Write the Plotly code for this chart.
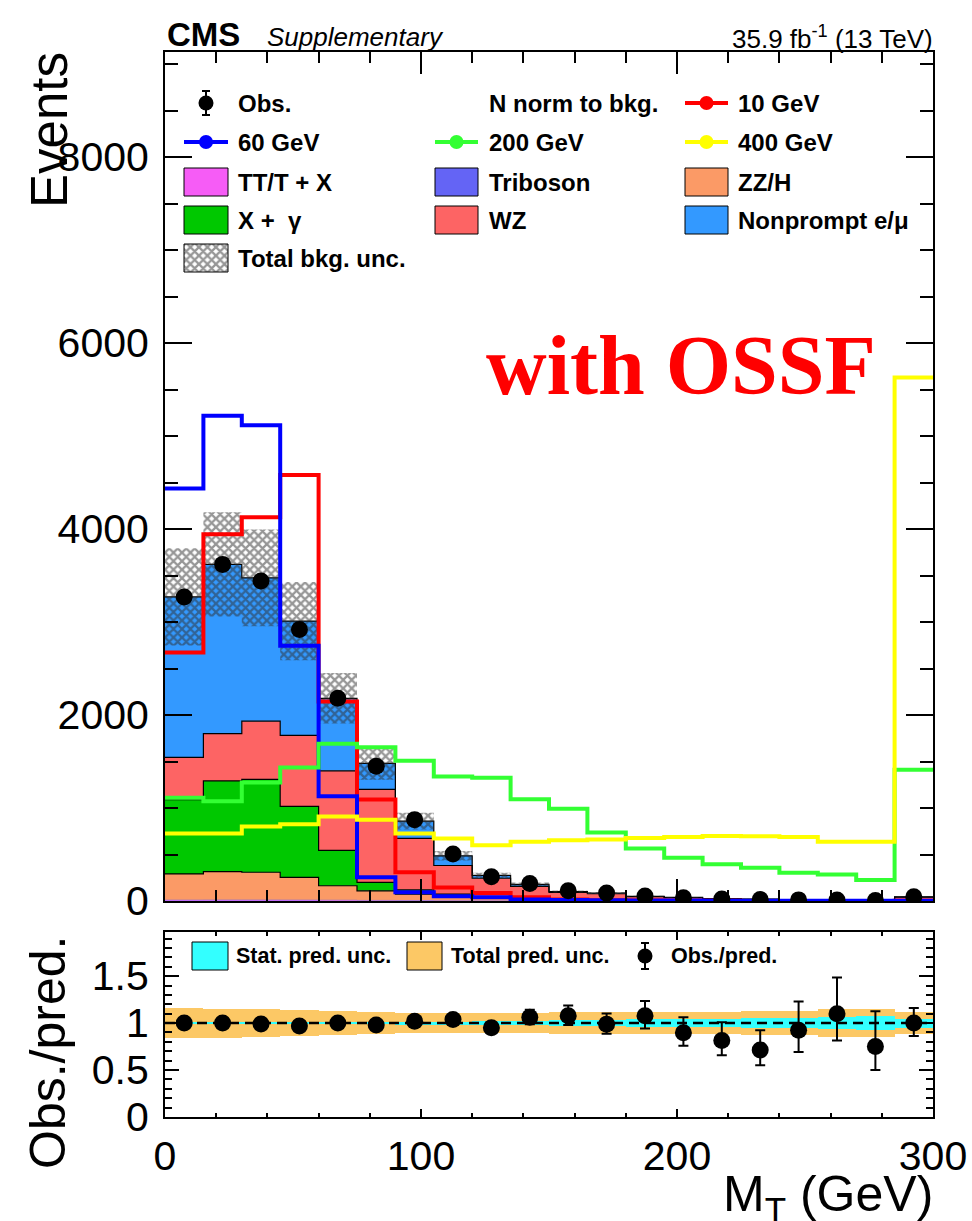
import numpy as np
import plotly.graph_objects as go

# ---------------- data ----------------
bin_edges = list(range(0, 301, 15))  # M_T bins, GeV

obs = [3270, 3620, 3440, 2920, 2180, 1450, 875, 505, 261, 189,
       110, 85, 55, 35, 22, 15, 12, 11, 6, 45]

bkg_ttx = [8, 9, 9, 8, 7, 5, 4, 3, 2, 1.5, 1, 0.8, 0.6, 0.5, 0.4, 0.3, 0.3, 0.2, 0.2, 0.8]
bkg_tribo = [2, 2, 2, 2, 2, 1.5, 1, 1, 0.8, 0.6, 0.5, 0.4, 0.3, 0.3, 0.2, 0.2, 0.1, 0.1, 0.1, 0.4]
bkg_zzh = [281, 305, 298, 245, 155, 103, 68, 43, 27, 20, 12.5, 9.8, 6.1, 4.2, 3.4, 2.5, 1.6, 1.7, 0.7, 4.8]
bkg_xg = [799, 975, 1000, 763, 381, 91, 47, 28, 15, 10, 6, 4, 3, 2, 1, 1, 1, 0.5, 0.5, 2]
bkg_wz = [455, 509, 625, 764, 855, 1000, 553, 307, 200, 126, 72, 63, 37, 29, 20, 15, 9, 7, 6, 33]
bkg_np = [1725, 1820, 1541, 1228, 780, 280, 185, 104, 30, 20, 10, 8, 4, 3, 2, 2, 1, 0.5, 0.5, 4]

sig_10 = [2673, 3945, 4127, 4581, 2145, 1091, 309, 145, 85, 40, 15, 8, 5, 3, 2, 1, 1, 1, 0.5, 2]
sig_60 = [4436, 5218, 5116, 2745, 1127, 255, 95, 50, 40, 15, 10, 8, 6, 5, 4, 3, 3, 2, 2, 3]
sig_200 = [1109, 1073, 1273, 1436, 1691, 1654, 1509, 1340, 1325, 1093,
           993, 736, 564, 464, 396, 357, 304, 286, 225, 1411]
sig_400 = [727, 727, 800, 825, 909, 873, 725, 671, 600, 636,
           653, 661, 678, 689, 700, 696, 689, 636, 636, 5630]

tot_rel = [0.16, 0.155, 0.15, 0.14, 0.125, 0.12, 0.105, 0.105, 0.105, 0.11,
           0.115, 0.115, 0.12, 0.12, 0.12, 0.13, 0.13, 0.145, 0.15, 0.12]
stat_rel = [0.012, 0.012, 0.012, 0.012, 0.013, 0.014, 0.015, 0.016, 0.018, 0.022,
            0.028, 0.035, 0.042, 0.04, 0.046, 0.053, 0.053, 0.067, 0.075, 0.047]

# ---------------- geometry helpers ----------------
W, H = 972, 1221
ML, MR, MT, MB = 165, 39, 52, 104
PW, PH = W - ML - MR, H - MT - MB


def px(xp):
    return (xp - ML) / PW


def py(yp):
    return (H - MB - yp) / PH


FONT = "Liberation Sans, Arial, Helvetica, sans-serif"
HATCH = dict(shape="x", fgcolor="#2e2e2e", size=6, solidity=0.62)
edges = np.array(bin_edges, float)
centers = 0.5 * (edges[:-1] + edges[1:])


def step(v):
    v = np.asarray(v, float)
    return np.append(v, v[-1])


fig = go.Figure()

# ---------------- stacked backgrounds ----------------
stack = [
    ("TT/T + X", bkg_ttx, "#f65cf6"),
    ("Triboson", bkg_tribo, "#6464f5"),
    ("ZZ/H", bkg_zzh, "#fb9a66"),
    ("X +  γ", bkg_xg, "#00c800"),
    ("WZ", bkg_wz, "#fd6464"),
    ("Nonprompt e/μ", bkg_np, "#3399ff"),
]
cum = np.zeros(len(obs))
for i, (name, vals, col) in enumerate(stack):
    cum = cum + np.asarray(vals, float)
    fig.add_trace(go.Scatter(
        x=edges, y=step(cum), mode="lines",
        line=dict(shape="hv", color="black" if i >= 2 else col, width=1.2 if i >= 2 else 0.5),
        fill="tozeroy" if i == 0 else "tonexty", fillcolor=col,
        xaxis="x", yaxis="y", showlegend=False, hoverinfo="skip"))
pred = cum.copy()
unc = pred * np.asarray(tot_rel)

# hatched total uncertainty band
fig.add_trace(go.Scatter(x=edges, y=step(pred - unc), mode="lines",
                         line=dict(shape="hv", width=0, color="rgba(0,0,0,0)"),
                         xaxis="x", yaxis="y", showlegend=False, hoverinfo="skip"))
fig.add_trace(go.Scatter(x=edges, y=step(pred + unc), mode="lines",
                         line=dict(shape="hv", width=0, color="rgba(0,0,0,0)"),
                         fill="tonexty", fillcolor="rgba(0,0,0,0)",
                         fillpattern=dict(bgcolor="rgba(0,0,0,0)", **HATCH),
                         xaxis="x", yaxis="y", showlegend=False, hoverinfo="skip"))

# ---------------- signals ----------------
signals = [(sig_10, "#ff0000"), (sig_60, "#0000ff"), (sig_200, "#33ff33"), (sig_400, "#ffff00")]
for vals, col in signals:
    fig.add_trace(go.Scatter(x=edges, y=step(vals), mode="lines",
                             line=dict(shape="hv", color=col, width=4),
                             xaxis="x", yaxis="y", showlegend=False, hoverinfo="skip"))

# ---------------- observed ----------------
obs_a = np.asarray(obs, float)
err_hi = np.sqrt(obs_a + 0.25) + 0.5
err_lo = np.sqrt(obs_a + 0.25) - 0.5
fig.add_trace(go.Scatter(x=centers, y=obs_a, mode="markers",
                         marker=dict(color="black", size=17),
                         error_y=dict(type="data", array=err_hi, arrayminus=err_lo,
                                      color="black", thickness=2, width=0),
                         xaxis="x", yaxis="y", showlegend=False, hoverinfo="skip"))

# ---------------- ratio panel ----------------
tot_rel_a = np.asarray(tot_rel)
stat_rel_a = np.asarray(stat_rel)
fig.add_trace(go.Bar(x=centers, y=2 * tot_rel_a, base=1 - tot_rel_a, width=15,
                     marker=dict(color="#fcc865", line=dict(width=0)),
                     xaxis="x2", yaxis="y2", showlegend=False, hoverinfo="skip"))
fig.add_trace(go.Bar(x=centers, y=2 * stat_rel_a, base=1 - stat_rel_a, width=15,
                     marker=dict(color="#33ffff", line=dict(width=0)),
                     xaxis="x2", yaxis="y2", showlegend=False, hoverinfo="skip"))
fig.add_trace(go.Scatter(x=[edges[0], edges[-1]], y=[1, 1], mode="lines",
                         line=dict(color="black", width=2.5, dash="10px,6px"),
                         xaxis="x2", yaxis="y2", showlegend=False, hoverinfo="skip"))
ratio = obs_a / pred
fig.add_trace(go.Scatter(x=centers, y=ratio, mode="markers",
                         marker=dict(color="black", size=17),
                         error_y=dict(type="data", array=err_hi / pred, arrayminus=err_lo / pred,
                                      color="black", thickness=2, width=5),
                         xaxis="x2", yaxis="y2", showlegend=False, hoverinfo="skip"))

# ---------------- hand-built legends (pixel frame x3/y3) ----------------
shapes = []
annotations = []
rows = [103, 142, 182, 220, 258]
cols_box = [(184, 228), (435, 478), (685, 728)]
cols_txt = [236, 487, 736]


def leg_text(x, y, text, size=24):
    annotations.append(dict(xref="x3", yref="y3", x=x, y=y, text="<b>%s</b>" % text,
                            showarrow=False, xanchor="left", yanchor="middle",
                            font=dict(family=FONT, size=size, color="black")))


def leg_box(c, r, color, hh=14):
    x0, x1 = cols_box[c]
    shapes.append(dict(type="rect", xref="x3", yref="y3", x0=x0, x1=x1,
                       y0=rows[r] - hh, y1=rows[r] + hh, fillcolor=color,
                       line=dict(color="black", width=1), layer="above"))


def leg_line(c, r, color):
    x0, x1 = cols_box[c]
    fig.add_trace(go.Scatter(x=[x0, x1], y=[rows[r], rows[r]], mode="lines",
                             line=dict(color=color, width=4),
                             xaxis="x3", yaxis="y3", showlegend=False, hoverinfo="skip"))
    fig.add_trace(go.Scatter(x=[(x0 + x1) / 2], y=[rows[r]], mode="markers",
                             marker=dict(color=color, size=14),
                             xaxis="x3", yaxis="y3", showlegend=False, hoverinfo="skip"))


# row 1
fig.add_trace(go.Scatter(x=[206], y=[rows[0]], mode="markers",
                         marker=dict(color="black", size=15),
                         error_y=dict(type="constant", value=12, color="black", thickness=2, width=4),
                         xaxis="x3", yaxis="y3", showlegend=False, hoverinfo="skip"))
leg_text(cols_txt[0], rows[0], "Obs.")
leg_text(cols_txt[1], rows[0], "N norm to bkg.")
leg_line(2, 0, "#ff0000")
leg_text(cols_txt[2], rows[0], "10 GeV")
# row 2
leg_line(0, 1, "#0000ff")
leg_text(cols_txt[0], rows[1], "60 GeV")
leg_line(1, 1, "#33ff33")
leg_text(cols_txt[1], rows[1], "200 GeV")
leg_line(2, 1, "#ffff00")
leg_text(cols_txt[2], rows[1], "400 GeV")
# rows 3-4 : stack entries
leg_order = [(0, 2, 0), (1, 2, 1), (2, 2, 2), (3, 3, 0), (4, 3, 1), (5, 3, 2)]
for idx, r, c in leg_order:
    name, _, col = stack[idx]
    leg_box(c, r, col)
    leg_text(cols_txt[c], rows[r], name)
# row 5 : hatch
hx0, hx1 = cols_box[0]
hy0, hy1 = rows[4] - 14, rows[4] + 14
fig.add_trace(go.Scatter(x=[hx0, hx1, hx1, hx0, hx0], y=[hy0, hy0, hy1, hy1, hy0],
                         mode="lines", line=dict(color="black", width=1),
                         fill="toself", fillcolor="white",
                         fillpattern=dict(bgcolor="white", **HATCH),
                         xaxis="x3", yaxis="y3", showlegend=False, hoverinfo="skip"))
leg_text(cols_txt[0], rows[4], "Total bkg. unc.")

# ratio legend
ry = 956
shapes.append(dict(type="rect", xref="x3", yref="y3", x0=192, x1=228, y0=ry - 14, y1=ry + 14,
                   fillcolor="#33ffff", line=dict(color="black", width=1), layer="above"))
leg_text(234, ry, "Stat. pred. unc.", size=21.5)
shapes.append(dict(type="rect", xref="x3", yref="y3", x0=407, x1=442, y0=ry - 14, y1=ry + 14,
                   fillcolor="#fcc865", line=dict(color="black", width=1), layer="above"))
leg_text(449, ry, "Total pred. unc.", size=21.5)
fig.add_trace(go.Scatter(x=[645], y=[ry], mode="markers",
                         marker=dict(color="black", size=15),
                         error_y=dict(type="constant", value=13, color="black", thickness=2, width=4),
                         xaxis="x3", yaxis="y3", showlegend=False, hoverinfo="skip"))
leg_text(669, ry, "Obs./pred.", size=21.5)


# ---------------- texts ----------------
def ann(x, y, text, size, xanchor="center", yanchor="middle", angle=0, family=FONT, color="black"):
    annotations.append(dict(xref="paper", yref="paper", x=px(x), y=py(y), text=text,
                            showarrow=False, xanchor=xanchor, yanchor=yanchor,
                            textangle=angle, font=dict(family=family, size=size, color=color)))


ann(165, 35, "<b>CMS</b>", 33, xanchor="left")
ann(265, 37, "<i>Supplementary</i>", 26, xanchor="left")
ann(935, 37, "35.9 fb<sup>-1</sup> (13 TeV)", 26, xanchor="right")
ann(49, 130, "Events", 51, angle=-90)
ann(48, 1053, "Obs./pred.", 50, angle=-90)
ann(935, 1197, "M<sub>T</sub> (GeV)", 50, xanchor="right")
ann(681, 365, "<b>with OSSF</b>", 84, family="Liberation Serif, Times New Roman, serif", color="#ff0000")

# ---------------- axes ----------------
tickfont = dict(family=FONT, size=41, color="black")
common = dict(showline=True, linewidth=2, linecolor="black", mirror="allticks",
              ticks="inside", tickcolor="black", tickwidth=2,
              showgrid=False, zeroline=False, tickfont=tickfont)

main_bottom = py(901)
ratio_top = py(932)

fig.update_layout(
    width=W, height=H,
    margin=dict(l=ML, r=MR, t=MT, b=MB, autoexpand=False),
    paper_bgcolor="white", plot_bgcolor="rgba(0,0,0,0)",
    barmode="overlay", bargap=0,
    showlegend=False,
    xaxis=dict(domain=[0, 1], anchor="y", range=[0, 300], dtick=100, tick0=0, ticklen=22,
               minor=dict(dtick=20, tick0=0, ticklen=11, ticks="inside", tickcolor="black", tickwidth=2),
               showticklabels=False, **common),
    yaxis=dict(domain=[main_bottom, 1], anchor="x", range=[0, 9130], dtick=2000, tick0=0, ticklen=27,
               minor=dict(dtick=500, tick0=0, ticklen=13, ticks="inside", tickcolor="black", tickwidth=2),
               ticklabelstandoff=6, **common),
    xaxis2=dict(domain=[0, 1], anchor="y2", range=[0, 300], dtick=100, tick0=0, ticklen=8,
                minor=dict(dtick=20, tick0=0, ticklen=4, ticks="inside", tickcolor="black", tickwidth=2),
                ticklabelstandoff=2, **common),
    yaxis2=dict(domain=[0, ratio_top], anchor="x2", range=[0, 1.97], dtick=0.5, tick0=0, ticklen=14,
                minor=dict(dtick=0.1, tick0=0, ticklen=7, ticks="inside", tickcolor="black", tickwidth=2),
                ticklabelstandoff=6, **common),
    xaxis3=dict(domain=[0, 1], anchor="y3", range=[ML, W - MR], visible=False, fixedrange=True),
    yaxis3=dict(domain=[0, 1], anchor="x3", range=[H - MB, MT], visible=False, fixedrange=True),
    shapes=shapes,
    annotations=annotations,
)

fig.write_html("out.html", config={"displayModeBar": False},
               post_script="document.body.style.margin='0px';document.body.style.overflow='hidden';")
